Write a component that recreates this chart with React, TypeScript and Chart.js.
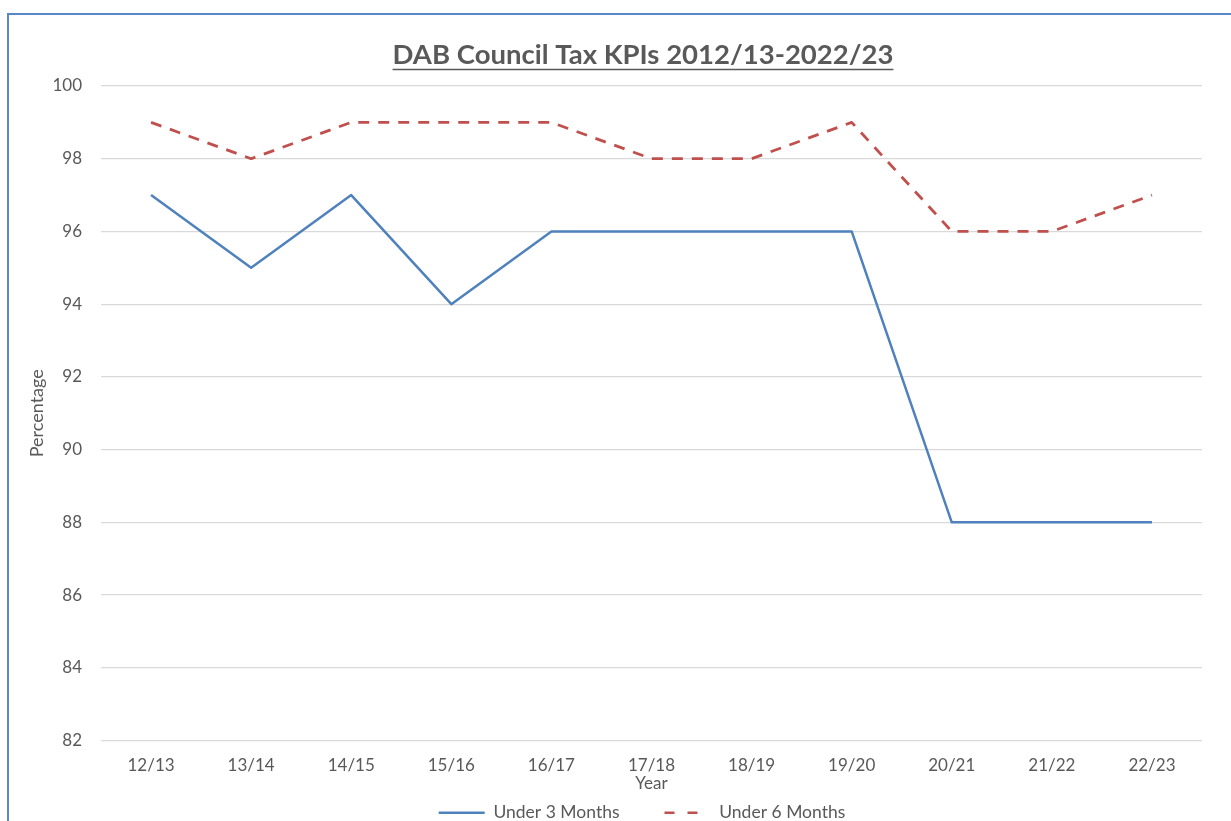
import { useEffect, useRef } from "react";
import { Chart, registerables } from "chart.js";

Chart.register(...registerables);

const chartTitle = "DAB Council Tax KPIs 2012/13-2022/23";
const categories = ["12/13", "13/14", "14/15", "15/16", "16/17", "17/18", "18/19", "19/20", "20/21", "21/22", "22/23"];
const under3Months = [97, 95, 97, 94, 96, 96, 96, 96, 88, 88, 88];
const under6Months = [99, 98, 99, 99, 99, 98, 98, 99, 96, 96, 97];
const yMin = 82;
const yMax = 100;
const yStep = 2;
const seriesNames = ["Under 3 Months", "Under 6 Months"];

const FONT = "Lato";
const TEXT = "#595959";
const CANVAS_W = 1231;
const CANVAS_H = 853;
const TITLE_SIZE = 27.5;
const TITLE_PAD_TOP = 39;

const shiftPlugin = {
  id: "shiftBoxes",
  afterLayout(chart: any) {
    const tb = chart.titleBlock;
    if (tb) {
      tb.left = 84;
    }
    const lg = chart.legend;
    if (lg) {
      const h = lg.bottom - lg.top;
      lg.left = 82;
      lg.top = 759;
      lg.bottom = 759 + h;
    }
  },
};

const underlinePlugin = {
  id: "titleUnderline",
  afterDraw(chart: any) {
    const tb = chart.titleBlock;
    if (!tb) return;
    const ctx = chart.ctx;
    ctx.save();
    ctx.font = `bold ${TITLE_SIZE}px ${FONT}`;
    const w = ctx.measureText(chartTitle).width;
    const cx = (tb.left + tb.right) / 2;
    const cy = tb.top + TITLE_PAD_TOP + (TITLE_SIZE * 1.2) / 2 + 14;
    ctx.strokeStyle = TEXT;
    ctx.lineWidth = 1.5;
    ctx.beginPath();
    ctx.moveTo(cx - w / 2, cy);
    ctx.lineTo(cx + w / 2, cy);
    ctx.stroke();
    ctx.restore();
  },
};

export default function App() {
  const ref = useRef<HTMLCanvasElement | null>(null);

  useEffect(() => {
    if (!ref.current) return;
    const chart = new Chart(ref.current, {
      type: "line",
      data: {
        labels: categories,
        datasets: [
          {
            label: seriesNames[0],
            data: under3Months,
            borderColor: "#4F81BD",
            backgroundColor: "#4F81BD",
            borderWidth: 2.5,
            pointRadius: 0,
            tension: 0,
            fill: false,
            borderJoinStyle: "round",
          },
          {
            label: seriesNames[1],
            data: under6Months,
            borderColor: "#C0504D",
            backgroundColor: "#C0504D",
            borderWidth: 2.8,
            borderDash: [11, 9],
            pointRadius: 0,
            tension: 0,
            fill: false,
            borderJoinStyle: "round",
          },
        ],
      },
      options: {
        responsive: false,
        animation: false,
        layout: { padding: { left: 0, right: 29, top: 0, bottom: 0 } },
        plugins: {
          tooltip: { enabled: false },
          title: {
            display: true,
            text: chartTitle,
            color: TEXT,
            font: { family: FONT, size: TITLE_SIZE, weight: "bold" },
            padding: { top: TITLE_PAD_TOP, bottom: 86 - TITLE_PAD_TOP - TITLE_SIZE * 1.2 },
          },
          legend: {
            position: "bottom",
            labels: {
              color: TEXT,
              font: { family: FONT, size: 17.5 },
              usePointStyle: true,
              pointStyle: "line",
              pointStyleWidth: 46,
              boxWidth: 46,
              padding: 45,
              generateLabels(c: any) {
                const items = Chart.defaults.plugins.legend.labels.generateLabels(c);
                items.forEach((it: any, i: number) => {
                  it.lineWidth = 2.5;
                  if (i === 1) it.lineDash = [10, 13];
                });
                return items;
              },
            },
          },
        },
        scales: {
          x: {
            offset: true,
            grid: { display: false, drawTicks: false },
            border: { display: false },
            ticks: { color: TEXT, font: { family: FONT, size: 17 }, padding: 15, maxRotation: 0, autoSkip: false },
            title: {
              display: true,
              text: "Year",
              color: TEXT,
              font: { family: FONT, size: 17 },
              padding: { top: 0, bottom: -13 },
            },
            afterFit(scale: any) {
              scale.height = 40;
            },
          },
          y: {
            min: yMin,
            max: yMax,
            grid: { color: "#D9D9D9", lineWidth: 1.3, drawTicks: false },
            border: { display: false },
            ticks: { stepSize: yStep, color: TEXT, font: { family: FONT, size: 17 }, padding: 19 },
            title: {
              display: true,
              text: "Percentage",
              color: TEXT,
              font: { family: FONT, size: 18 },
              padding: { top: 26, bottom: 0 },
            },
            afterFit(scale: any) {
              scale.width = 101;
            },
          },
        },
      },
      plugins: [shiftPlugin, underlinePlugin],
    });
    return () => chart.destroy();
  }, []);

  return (
    <div
      style={{
        position: "fixed",
        left: 0,
        top: 0,
        width: 1231,
        height: 821,
        overflow: "hidden",
        background: "#fff",
      }}
    >
      <div
        style={{
          position: "absolute",
          left: 7,
          top: 13,
          width: 1400,
          height: 1000,
          border: "2px solid #5A87C8",
          boxSizing: "border-box",
        }}
      />
      <canvas
        ref={ref}
        width={CANVAS_W}
        height={CANVAS_H}
        style={{ position: "absolute", left: 0, top: 0, width: CANVAS_W, height: CANVAS_H }}
      />
    </div>
  );
}
